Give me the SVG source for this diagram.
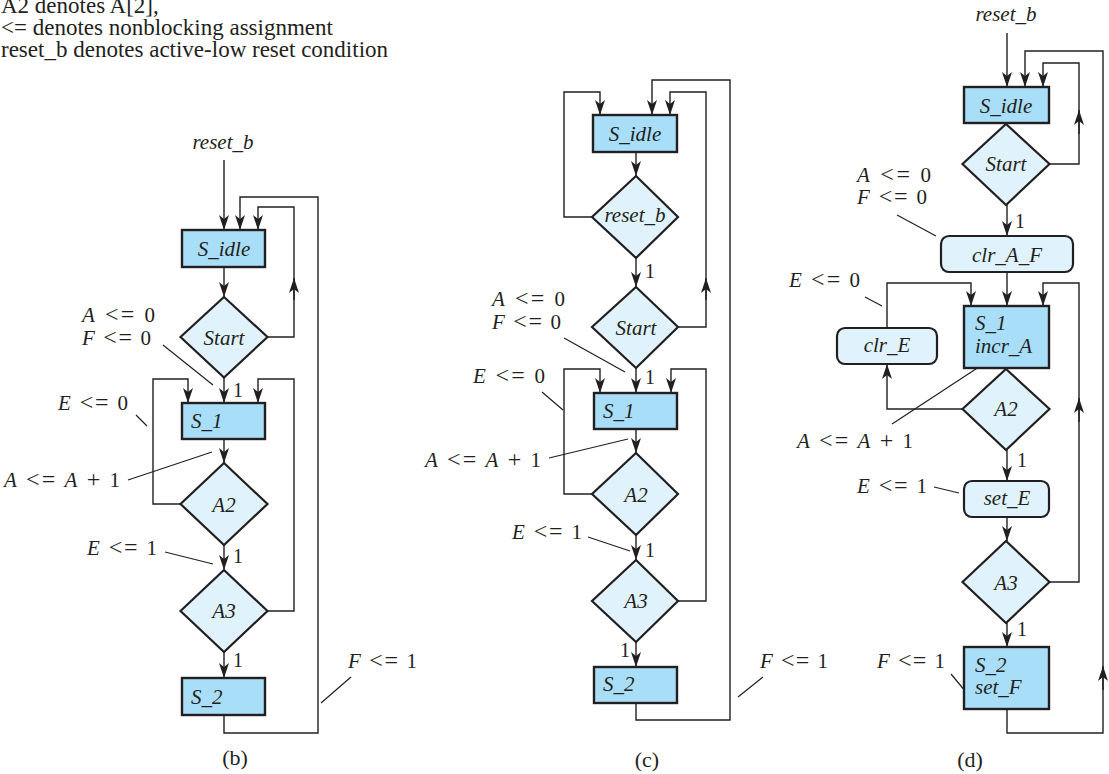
<svg xmlns="http://www.w3.org/2000/svg" width="1109" height="774" viewBox="0 0 1109 774">
<style>
text{font-family:"Liberation Serif","Times New Roman",serif;fill:#231f20}
.hd{font-size:23px}
.lb{font-size:21px}
.it{font-style:italic}
.sy{font-size:24px}
.num{font-size:20px}
.cap{font-size:22px}
.st{fill:#a9def8;stroke:#231f20;stroke-width:2.4}
.dm{fill:#e0f3fc;stroke:#231f20;stroke-width:2.2}
.rb{fill:#e0f3fc;stroke:#231f20;stroke-width:2.2}
.cn{fill:none;stroke:#231f20;stroke-width:1.4}
.ld{fill:none;stroke:#231f20;stroke-width:1.2}
.a{marker-end:url(#ah)}
</style>
<defs>
<marker id="ah" markerUnits="userSpaceOnUse" markerWidth="16" markerHeight="12" refX="15" refY="5" orient="auto" overflow="visible">
<path d="M0,0 L15,5 L0,10 L4,5 Z" fill="#231f20"/>
</marker>
</defs>

<g id="header">
<text class="hd" x="1" y="13">A2 denotes A[2],</text>
<text class="hd" x="1" y="35">&lt;= denotes nonblocking assignment</text>
<text class="hd" x="1" y="57">reset_b denotes active-low reset condition</text>
</g>

<g id="connectors">
<!-- (b) -->
<path class="cn a" d="M224,160 V230"/>
<path class="cn a" d="M224,715 V733 H318 V197 H240 V230"/>
<path class="cn a" d="M267,337 H294 V207 H258 V230"/>
<path class="cn a" d="M294,300 V278"/>
<path class="cn a" d="M224,267 V297"/>
<path class="cn a" d="M224,378 V403"/>
<path class="cn a" d="M180,504 H153 V379 H188 V403"/>
<path class="cn a" d="M267,611 H294 V379 H258 V403"/>
<path class="cn a" d="M224,439 V463"/>
<path class="cn a" d="M224,545 V570"/>
<path class="cn a" d="M224,652 V678"/>
<!-- (c) -->
<path class="cn a" d="M592,217 H564 V92 H600 V115"/>
<path class="cn a" d="M636,703 V720 H730 V80 H652 V115"/>
<path class="cn a" d="M678,327 H706 V92 H670 V115"/>
<path class="cn a" d="M706,300 V278"/>
<path class="cn a" d="M636,152 V176"/>
<path class="cn a" d="M636,258 V287"/>
<path class="cn a" d="M636,368 V393"/>
<path class="cn a" d="M592,494 H564 V369 H600 V393"/>
<path class="cn a" d="M678,601 H706 V369 H671 V393"/>
<path class="cn a" d="M636,429 V453"/>
<path class="cn a" d="M636,535 V560"/>
<path class="cn a" d="M636,642 V667"/>
<!-- (d) -->
<path class="cn a" d="M1007,33 V87"/>
<path class="cn a" d="M1007,709 V733 H1103 V51 H1025 V87"/>
<path class="cn a" d="M1103,690 V666"/>
<path class="cn a" d="M1049,164 H1079 V63 H1043 V87"/>
<path class="cn a" d="M1079,134 V110"/>
<path class="cn a" d="M1007,205 V236"/>
<path class="cn a" d="M1007,272 V306"/>
<path class="cn a" d="M887,328 V283 H971 V306"/>
<path class="cn a" d="M1049,582 H1079 V283 H1043 V306"/>
<path class="cn a" d="M1079,422 V398"/>
<path class="cn a" d="M962,409 H887 V364"/>
<path class="cn a" d="M1007,450 V481"/>
<path class="cn a" d="M1007,517 V541"/>
<path class="cn a" d="M1007,623 V647"/>
<!-- leader lines -->
<path class="ld" d="M163,345 L213,385 M136,415 L147,426 M128,480 L212,452 M165,552 L213,564 M351,677 L321,703"/>
<path class="ld" d="M564,338 L625,372 M542,392 L563,410 M549,458 L628,439 M588,537 L630,551 M763,677 L738,697"/>
<path class="ld" d="M897,215 L936,236 M865,297 L882,306 M892,424 L985,363 M934,487 L959,493 M951,674 L971,698"/>
</g>

<!-- (b) nodes -->
<g id="b_S_idle"><rect class="st" x="182" y="230" width="83" height="37"/><text class="lb it" x="224" y="256" text-anchor="middle">S_idle</text></g>
<g id="b_Start"><polygon class="dm" points="224,297 267.5,337 224,377.5 180.5,337"/><text class="lb it" x="224" y="345" text-anchor="middle">Start</text></g>
<g id="b_S_1"><rect class="st" x="182" y="403" width="83" height="36"/><text class="lb it" x="191" y="428">S_1</text></g>
<g id="b_A2"><polygon class="dm" points="224,463 267.5,504 224,545 180.5,504"/><text class="lb it" x="224" y="512" text-anchor="middle">A2</text></g>
<g id="b_A3"><polygon class="dm" points="224,570 267.5,611 224,652 180.5,611"/><text class="lb it" x="224" y="618" text-anchor="middle">A3</text></g>
<g id="b_S_2"><rect class="st" x="182" y="678" width="83" height="37"/><text class="lb it" x="191" y="704">S_2</text></g>
<g id="b_labels">
<text class="lb it" x="223" y="149" text-anchor="middle">reset_b</text>
<text class="lb" x="82" y="322" textLength="73" lengthAdjust="spacing"><tspan class="it">A</tspan> <tspan class="sy">&lt;=</tspan> 0</text>
<text class="lb" x="82" y="345" textLength="69" lengthAdjust="spacing"><tspan class="it">F</tspan> <tspan class="sy">&lt;=</tspan> 0</text>
<text class="lb" x="58" y="410" textLength="70" lengthAdjust="spacing"><tspan class="it">E</tspan> <tspan class="sy">&lt;=</tspan> 0</text>
<text class="lb" x="4" y="487" textLength="116" lengthAdjust="spacing"><tspan class="it">A</tspan> <tspan class="sy">&lt;=</tspan> <tspan class="it">A</tspan> <tspan class="sy">+</tspan> 1</text>
<text class="lb" x="87" y="555" textLength="70" lengthAdjust="spacing"><tspan class="it">E</tspan> <tspan class="sy">&lt;=</tspan> 1</text>
<text class="lb" x="348" y="668" textLength="69" lengthAdjust="spacing"><tspan class="it">F</tspan> <tspan class="sy">&lt;=</tspan> 1</text>
<text class="num" x="233" y="397">1</text>
<text class="num" x="233" y="563">1</text>
<text class="num" x="233" y="667">1</text>
<text class="cap" x="235" y="765" text-anchor="middle">(b)</text>
</g>

<!-- (c) nodes -->
<g id="c_S_idle"><rect class="st" x="593" y="115" width="84" height="37"/><text class="lb it" x="635" y="141" text-anchor="middle">S_idle</text></g>
<g id="c_reset_b"><polygon class="dm" points="636,176 678,217 636,258 592,217"/><text class="lb it" x="635" y="222" text-anchor="middle">reset_b</text></g>
<g id="c_Start"><polygon class="dm" points="636,287 678,327 636,368 592,327"/><text class="lb it" x="636" y="335" text-anchor="middle">Start</text></g>
<g id="c_S_1"><rect class="st" x="594" y="393" width="83" height="36"/><text class="lb it" x="603" y="418">S_1</text></g>
<g id="c_A2"><polygon class="dm" points="636,453 678,494 636,535 592,494"/><text class="lb it" x="636" y="502" text-anchor="middle">A2</text></g>
<g id="c_A3"><polygon class="dm" points="636,560 678,601 636,642 592,601"/><text class="lb it" x="636" y="608" text-anchor="middle">A3</text></g>
<g id="c_S_2"><rect class="st" x="594" y="667" width="83" height="36"/><text class="lb it" x="603" y="691">S_2</text></g>
<g id="c_labels">
<text class="lb" x="492" y="306" textLength="73" lengthAdjust="spacing"><tspan class="it">A</tspan> <tspan class="sy">&lt;=</tspan> 0</text>
<text class="lb" x="492" y="329" textLength="69" lengthAdjust="spacing"><tspan class="it">F</tspan> <tspan class="sy">&lt;=</tspan> 0</text>
<text class="lb" x="473" y="383" textLength="72" lengthAdjust="spacing"><tspan class="it">E</tspan> <tspan class="sy">&lt;=</tspan> 0</text>
<text class="lb" x="425" y="467" textLength="116" lengthAdjust="spacing"><tspan class="it">A</tspan> <tspan class="sy">&lt;=</tspan> <tspan class="it">A</tspan> <tspan class="sy">+</tspan> 1</text>
<text class="lb" x="512" y="539" textLength="70" lengthAdjust="spacing"><tspan class="it">E</tspan> <tspan class="sy">&lt;=</tspan> 1</text>
<text class="lb" x="760" y="668" textLength="68" lengthAdjust="spacing"><tspan class="it">F</tspan> <tspan class="sy">&lt;=</tspan> 1</text>
<text class="num" x="645" y="278">1</text>
<text class="num" x="645" y="384">1</text>
<text class="num" x="645" y="557">1</text>
<text class="num" x="620" y="657">1</text>
<text class="cap" x="647" y="767" text-anchor="middle">(c)</text>
</g>

<!-- (d) nodes -->
<g id="d_S_idle"><rect class="st" x="964" y="87" width="85" height="36"/><text class="lb it" x="1006" y="113" text-anchor="middle">S_idle</text></g>
<g id="d_Start"><polygon class="dm" points="1006,124 1049.5,164 1006,205 962.5,164"/><text class="lb it" x="1006" y="171" text-anchor="middle">Start</text></g>
<g id="d_clr_A_F"><rect class="rb" x="941" y="236" width="132" height="36" rx="8"/><text class="lb it" x="1007" y="262" text-anchor="middle">clr_A_F</text></g>
<g id="d_clr_E"><rect class="rb" x="837" y="328" width="100" height="36" rx="8"/><text class="lb it" x="887" y="352" text-anchor="middle">clr_E</text></g>
<g id="d_S_1"><rect class="st" x="964" y="306" width="85" height="62"/><text class="lb it" x="975" y="330">S_1</text><text class="lb it" x="975" y="353">incr_A</text></g>
<g id="d_A2"><polygon class="dm" points="1006,369 1049.5,409 1006,450 962.5,409"/><text class="lb it" x="1006" y="416" text-anchor="middle">A2</text></g>
<g id="d_set_E"><rect class="rb" x="964" y="481" width="85" height="36" rx="8"/><text class="lb it" x="1007" y="505" text-anchor="middle">set_E</text></g>
<g id="d_A3"><polygon class="dm" points="1006,541 1049.5,582 1006,623 962.5,582"/><text class="lb it" x="1006" y="590" text-anchor="middle">A3</text></g>
<g id="d_S_2"><rect class="st" x="964" y="647" width="85" height="62"/><text class="lb it" x="975" y="672">S_2</text><text class="lb it" x="975" y="694">set_F</text></g>
<g id="d_labels">
<text class="lb it" x="1006" y="21" text-anchor="middle">reset_b</text>
<text class="lb" x="857" y="182" textLength="74" lengthAdjust="spacing"><tspan class="it">A</tspan> <tspan class="sy">&lt;=</tspan> 0</text>
<text class="lb" x="857" y="204" textLength="70" lengthAdjust="spacing"><tspan class="it">F</tspan> <tspan class="sy">&lt;=</tspan> 0</text>
<text class="lb" x="789" y="287" textLength="71" lengthAdjust="spacing"><tspan class="it">E</tspan> <tspan class="sy">&lt;=</tspan> 0</text>
<text class="lb" x="797" y="448" textLength="116" lengthAdjust="spacing"><tspan class="it">A</tspan> <tspan class="sy">&lt;=</tspan> <tspan class="it">A</tspan> <tspan class="sy">+</tspan> 1</text>
<text class="lb" x="857" y="493" textLength="70" lengthAdjust="spacing"><tspan class="it">E</tspan> <tspan class="sy">&lt;=</tspan> 1</text>
<text class="lb" x="877" y="668" textLength="68" lengthAdjust="spacing"><tspan class="it">F</tspan> <tspan class="sy">&lt;=</tspan> 1</text>
<text class="num" x="1015" y="228">1</text>
<text class="num" x="1017" y="467">1</text>
<text class="num" x="1017" y="636">1</text>
<text class="cap" x="970" y="767" text-anchor="middle">(d)</text>
</g>
</svg>
